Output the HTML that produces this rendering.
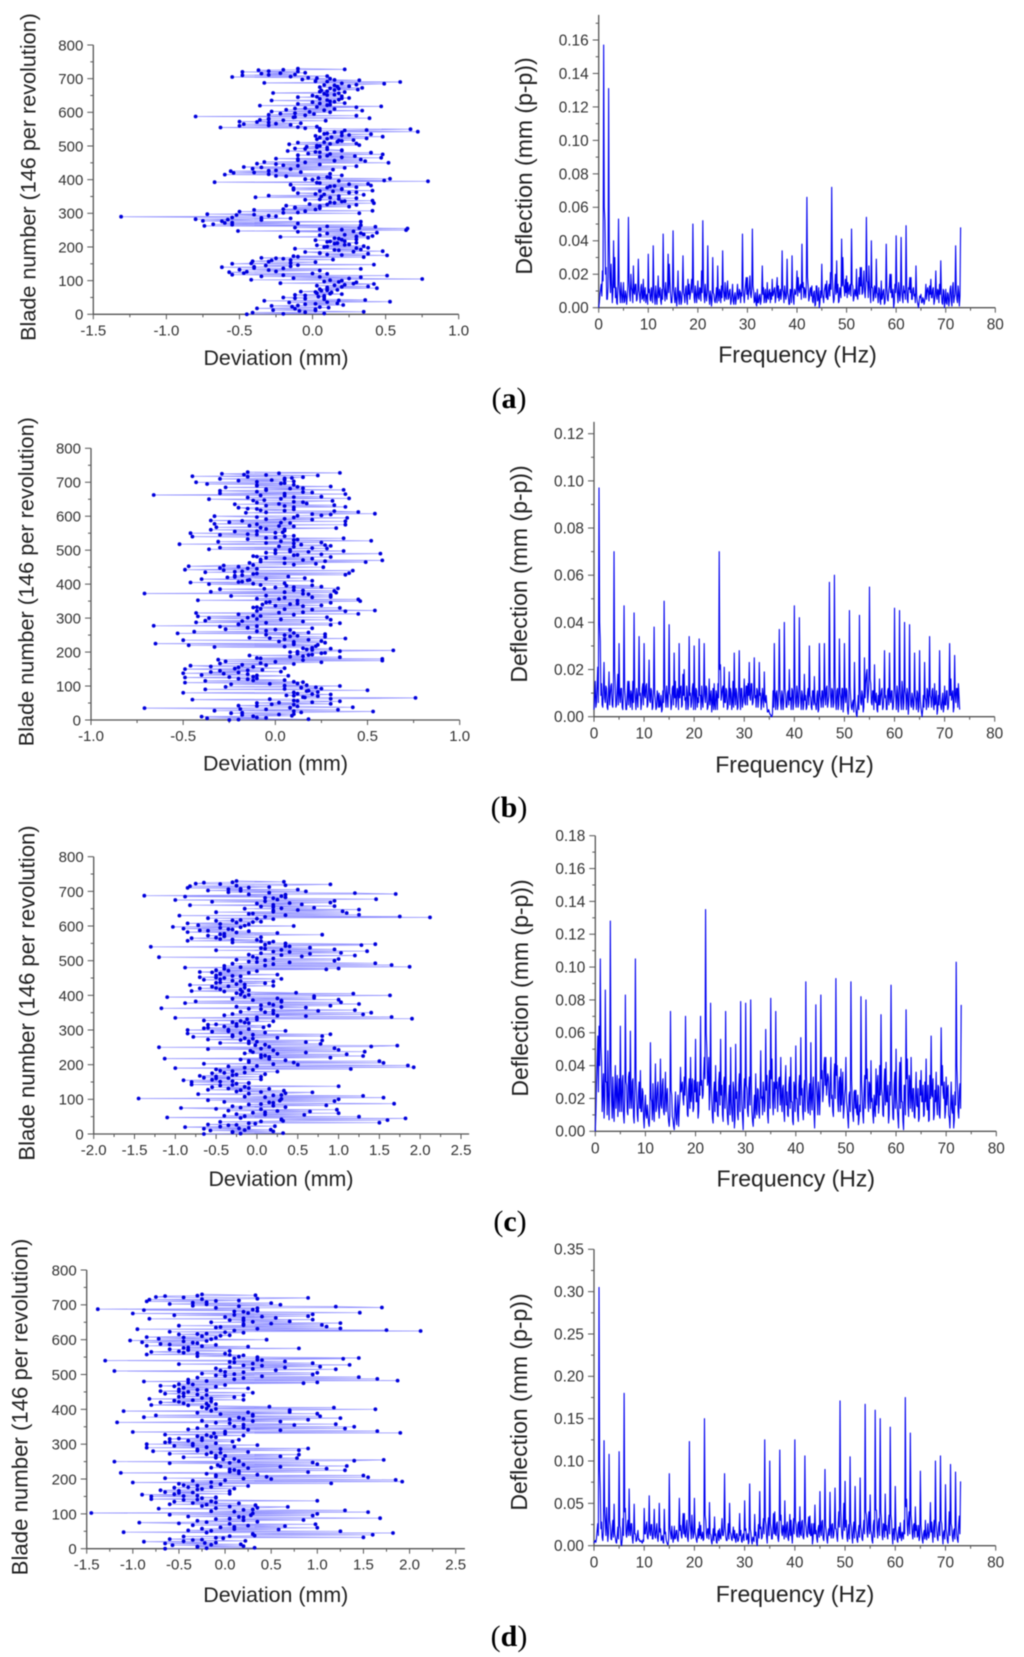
<!DOCTYPE html>
<html lang="en">
<head>
<meta charset="utf-8">
<title>Blade deviation and deflection spectra</title>
<style>
html,body{margin:0;padding:0;background:#fff;width:1024px;height:1657px;overflow:hidden}
svg{display:block;filter:blur(.5px)}
.tick{font-family:"Liberation Sans",sans-serif;fill:#333}
.title{font-family:"Liberation Sans",sans-serif;fill:#222}
.cap{font-family:"Liberation Serif",serif;font-size:30px;fill:#000;text-anchor:middle}
.cap tspan{font-weight:bold}
</style>
</head>
<body>
<svg id="fig" xmlns="http://www.w3.org/2000/svg" width="1024" height="1657" viewBox="0 0 1024 1657">
<rect width="1024" height="1657" fill="#fff"/>
<text class="cap" x="509" y="408">(<tspan>a</tspan>)</text>
<text class="cap" x="509" y="817">(<tspan>b</tspan>)</text>
<text class="cap" x="510" y="1231">(<tspan>c</tspan>)</text>
<text class="cap" x="509" y="1646">(<tspan>d</tspan>)</text>
</svg>
<script>
// Blade step between consecutive scatter values, and frequency step between spectrum values.
const bladeStep = 2.5;
const bladeStepFill = 5;
const freqStep = 0.25;

const bladeTicks = [0,100,200,300,400,500,600,700,800];
const bladeMinor = [50,150,250,350,450,550,650,750];
const freqTicks = [0,10,20,30,40,50,60,70,80];
const freqMinor = [5,15,25,35,45,55,65,75];

const devTicksA = [-1.5,-1.0,-0.5,0.0,0.5,1.0];
const devMinorA = [-1.25,-0.75,-0.25,0.25,0.75];
const devTicksB = [-1.0,-0.5,0.0,0.5,1.0];
const devMinorB = [-0.75,-0.25,0.25,0.75];
const devTicksC = [-2.0,-1.5,-1.0,-0.5,0.0,0.5,1.0,1.5,2.0,2.5];
const devMinorC = [-1.75,-1.25,-0.75,-0.25,0.25,0.75,1.25,1.75,2.25];
const devTicksD = [-1.5,-1.0,-0.5,0.0,0.5,1.0,1.5,2.0,2.5];
const devMinorD = [-1.25,-0.75,-0.25,0.25,0.75,1.25,1.75,2.25];

const deflTicksA = [0,0.02,0.04,0.06,0.08,0.10,0.12,0.14,0.16];
const deflMinorA = [0.01,0.03,0.05,0.07,0.09,0.11,0.13,0.15,0.17];
const deflTicksB = [0,0.02,0.04,0.06,0.08,0.10,0.12];
const deflMinorB = [0.01,0.03,0.05,0.07,0.09,0.11];
const deflTicksC = [0,0.02,0.04,0.06,0.08,0.10,0.12,0.14,0.16,0.18];
const deflMinorC = [0.01,0.03,0.05,0.07,0.09,0.11,0.13,0.15,0.17];
const deflTicksD = [0,0.05,0.10,0.15,0.20,0.25,0.30,0.35];
const deflMinorD = [0.025,0.075,0.125,0.175,0.225,0.275,0.325];

// Deviation (mm) per blade, panel (a)
const deviationA = [
-.45,.08,-.41,.35,-.09,-.27,.02,-.38,.11,-.14,
-.28,.21,-.05,.17,-.16,.53,-.33,.36,.08,-.12,
-.2,.04,.08,-.12,.2,.03,.13,-.08,.06,.17,
.05,.44,.1,.38,.03,.22,.42,-.22,.3,.08,
.2,-.42,.75,-.13,.33,-.35,.51,-.55,.1,-.47,
-.57,-.25,.05,-.5,.33,-.4,-.62,-.15,-.32,.42,
-.55,-.15,.02,-.41,-.28,.14,-.2,-.35,.35,-.13,
.51,.1,.38,.05,-.05,.48,.18,.33,-.12,.38,
.08,.35,.03,.25,.15,.3,.1,.22,.02,.3,
.18,.38,-.22,.41,.05,.35,.1,.44,-.1,-.51,
.64,.05,.65,-.12,.43,-.74,.33,-.68,-.1,-.55,
.33,-.75,-.35,-.8,-.15,-.55,-1.31,-.3,-.52,-.72,
.32,-.1,-.5,.41,-.4,-.2,.05,-.12,.25,-.18,
.3,-.02,.42,.12,.2,.41,-.05,.18,.3,-.39,
.06,-.3,.35,.02,-.1,.3,.14,.41,-.13,.2,
-.13,.3,.12,.4,-.15,.38,.05,-.67,.79,.49,
0,.53,.04,.1,-.18,.2,-.6,.12,-.54,-.08,
-.56,-.25,.14,-.41,.22,-.47,.3,-.2,.05,-.38,
.52,-.33,.36,-.1,.33,-.25,.47,.05,.29,-.1,
.48,-.03,.4,.02,-.17,.2,.1,-.12,.1,-.04,
.05,.32,-.16,.3,-.1,.17,.2,.28,.03,.37,
.05,.48,.02,.25,.4,.1,.2,.72,.05,.37,
.67,-.05,-.63,.03,-.5,-.15,-.47,-.08,-.3,-.5,
.09,-.36,-.3,.39,-.13,-.8,.3,-.3,.01,-.12,
.12,-.28,.34,-.18,.15,-.05,.3,.47,-.36,.12,
-.1,.22,0,.12,-.28,.18,.05,.25,-.1,.2,
0,.15,.08,-.27,.22,.1,.06,.31,.18,.34,
.05,.25,.15,.3,.49,-.33,.6,.02,.32,-.07,
.12,-.03,-.55,.1,-.48,-.12,-.35,-.05,-.48,-.3,
-.37,.22,-.1
];
// Additional blades of panel (a), read from the dense central clusters
const deviationAFill = [
-.2,-.05,.02,-.12,.05,
-.1,.02,.1,.18,-.05,
.08,-.05,.12,.02,.1,
.1,.2,.15,.28,.18,
.12,.25,.05,-.2,0,
-.45,-.3,-.2,-.4,-.1,
-.42,-.3,-.15,-.25,-.1,
.2,.05,.28,.15,.3,
.1,.22,.17,.12,.2,
.15,.3,.22,.33,.28,
.2,.32,.1,-.55,-.6,
-.62,-.58,-.35,-.25,-.4,
-.2,-.05,.02,-.12,.05,
.1,.15,.22,.05,.12,
.18,.08,.25,.05,.2,
.1,.15,.25,.03,.18,
-.05,.12,-.25,-.3,-.4,
-.3,-.15,-.35,-.1,-.25,
-.05,.15,-.1,.2,.1,
.12,.05,.2,-.05,.03,
.03,.12,.08,.18,.1,
.13,.2,.08,.15,.22,
.05,-.1,-.3,-.25,-.38,
-.2,-.3,-.12,-.05,-.22,
-.02,.08,-.12,.03,.1,
.05,.15,.1,.2,.03,
.1,.18,.05,.15,.12,
.17,.08,.2,.1,.15,
.03,-.15,-.3,-.22,-.1,
-.2
];

// Deviation (mm) per blade, panel (b)
const deviationB = [
-.25,.18,-.37,-.1,-.4,.09,-.18,.1,-.24,.14,
.53,-.33,.34,-.19,-.71,.42,.12,-.2,.1,.3,
-.1,.2,.35,.1,-.45,.3,.76,.15,.23,.06,
.3,.12,-.5,.23,.17,.5,-.38,.25,.14,-.27,
.35,.17,-.24,.12,-.49,.1,-.38,.05,-.15,-.1,
-.49,-.12,.07,-.4,-.15,-.5,-.2,.03,-.3,-.07,
-.49,.05,-.2,-.35,-.46,-.18,.1,-.08,.25,-.27,
.58,-.31,.58,-.1,.35,.15,-.14,.2,.12,.27,
.08,.35,.64,.17,.3,.2,-.33,.22,-.47,.1,
-.65,.27,.1,.25,-.5,.05,.38,-.14,.27,.12,
.05,.27,-.53,.18,-.44,-.05,.08,-.27,.2,-.15,
-.3,-.66,.3,-.2,.35,-.43,.15,-.38,.3,-.1,
-.36,.28,-.42,-.12,.1,.45,-.43,.15,.38,.54,
.2,-.08,.35,-.1,.15,.25,-.07,.12,.3,-.03,
.46,-.42,.45,-.1,.05,.3,-.24,.3,.18,-.71,
.33,-.35,.32,.1,-.3,.34,0,.25,.06,-.08,
-.36,.05,-.46,-.18,.2,-.14,-.4,.16,-.26,.07,
-.22,.38,-.12,.4,-.38,-.18,.42,-.49,-.1,-.3,
.26,-.47,-.28,.1,.22,-.14,.49,.27,.58,-.08,
.2,-.05,.3,-.12,.1,.25,.57,-.05,.18,.37,
0,-.36,.28,-.3,.1,.3,.27,-.52,.1,.25,
-.31,.52,.1,-.15,.37,0,-.45,.1,-.3,-.15,
-.46,.04,-.22,.05,-.35,-.05,.33,-.32,.1,-.14,
.38,-.33,.08,-.25,.38,-.35,.2,.05,.39,-.1,
-.33,.25,.3,.54,-.16,.45,.32,-.08,.1,-.15,
-.2,.38,.05,.32,-.22,.17,-.1,.1,.31,-.06,
-.36,.4,-.15,.25,.05,-.66,.38,-.3,.2,-.1,
-.3,.37,-.05,.15,-.27,.3,-.1,.1,-.37,.05,
-.43,.1,-.2,.05,-.3,.09,.15,-.45,.23,-.17,
-.29,.35,-.15
];
// Additional blades of panel (b)
const deviationBFill = [
-.2,-.05,-.12,.02,-.18,
.1,-.05,.08,-.1,-.02,
.02,.12,-.03,.16,.1,
.2,.1,.18,.05,.22,
.05,-.03,.15,-.12,-.2,
-.25,-.1,-.28,-.35,-.15,
-.22,-.12,-.05,-.3,0,
.15,-.08,.08,.18,.25,
.12,.2,.15,.05,.23,
.1,.02,.18,-.03,.08,
-.05,.1,-.1,0,-.15,
-.1,-.2,-.05,-.18,.03,
-.15,-.08,-.2,.02,-.1,
.05,-.12,0,.08,-.05,
.12,.02,.2,-.05,.15,
.05,.15,-.06,.1,.2,
-.12,-.2,-.15,-.05,-.22,
-.18,-.1,-.22,-.28,-.15,
-.2,-.12,.05,-.08,.15,
.05,-.1,.12,0,.08,
.08,.2,.02,.14,-.05,
.03,.12,-.05,.05,-.1,
0,-.1,.05,-.08,.02,
-.1,.03,-.18,-.05,.1,
.12,.2,-.05,.05,-.1,
.1,-.05,.02,.15,-.12,
.03,.1,-.08,.05,.15,
-.05,.08,.12,-.1,.03,
-.1,-.02,.05,-.15,-.05,
.02
];

// Deviation (mm) per blade, panel (c)
const deviationC = [
-.65,.32,-.3,.2,-.57,.17,-.65,-.1,-.88,.22,
-.35,-.6,-.02,1.5,-.45,.32,1.6,.3,1.82,-1.1,
1.25,-.4,.58,-.25,1,.1,.65,-.35,.98,-.5,
-.93,.35,-.3,.85,-.1,1.68,.2,-.4,.95,-.6,
1,-1.45,1.55,-.15,1.3,.3,-.72,.35,.68,-.25,
.33,-.6,.15,-.1,-.55,1,-.45,-.8,-.25,-.1,
-.8,-.3,-.9,.05,-.5,-.65,.05,-.7,-.3,.1,
-.55,-.15,.25,-.45,-.05,1.15,-1,1.92,-.35,1.85,
.5,-.65,1.55,-.1,1.5,.35,-.2,-1.13,.9,.15,
1.3,.05,1.1,-.15,.6,1.32,-.08,1,-.6,.95,
-1.2,1.4,1.72,.1,.78,-.45,.6,-.1,.8,-.6,
-.05,.25,-.78,.8,-.3,.9,-.85,.1,-.55,.35,
-.85,-.1,-.65,.08,-.4,.15,-.6,-.25,-.1,-.3,
.2,-.65,0,1.9,-1,1.65,.6,-.4,1.3,.2,
1.4,-.2,.75,1.2,.05,-1.17,.6,-.25,.9,.2,
1.25,-.88,1.03,-.75,.3,1,-.3,.7,-1.1,.7,
1.63,-.2,1.18,.48,-.18,-.8,-.1,-.45,-.7,-.15,
-.55,.2,-.82,-.25,.1,-.45,.2,-.3,-.65,.3,
-.4,-.7,-.2,-.5,.25,-.45,-.1,-.7,0,-.5,
.85,1,-.88,1.87,-.4,1.65,.2,1.45,.4,-.1,
.95,-.25,1,0,-1.2,.55,1.2,-.1,.65,1.03,
.4,1.35,-.5,.95,.1,.65,-1.3,.35,1.28,1.45,
.35,-.3,.2,-.85,0,-.45,-.8,.05,-.4,-.6,
.8,-.4,.25,-.85,-.1,-.7,-.3,-.9,-.45,-1.03,
.45,-.72,-.1,-.85,-.25,.05,-.5,-.2,.2,-.6,
2.12,1.75,-.95,1.25,-.1,1.1,-.5,1.05,.2,1.25,
-.15,.7,.2,.95,-.82,.55,0,.9,-.55,.95,
-1,1.46,.2,.35,-.88,-1.38,.35,1.7,1.2,-.35,
.6,-.6,.5,-.2,-.85,.15,-.82,.35,.9,-.75,
-.65,.33,-.25
];
// Additional blades of panel (c)
const deviationCFill = [
-.2,-.3,-.15,-.22,-.45,
-.25,-.1,.05,.3,-.2,
-.15,.1,-.05,.25,.05,
-.2,.2,.05,.15,.28,
.3,.1,.2,-.1,.05,
-.2,-.35,-.15,-.3,-.1,
-.45,-.55,-.35,-.5,-.25,
-.4,-.3,-.5,-.15,0,
.2,.45,-.1,.15,.05,
.1,.25,-.05,.2,.05,
.15,-.02,-.1,0,-.2,
-.15,-.3,-.05,-.2,-.35,
-.35,-.6,-.25,-.5,-.15,
-.2,-.12,0,.25,-.3,
.1,.2,-.1,.3,.05,
.15,.3,-.05,.25,-.15,
-.1,-.25,-.4,-.2,-.5,
-.35,-.15,-.5,-.2,-.45,
-.5,-.3,-.45,-.55,-.35,
-.4,-.2,.1,-.3,0,
.1,.2,-.05,.3,.05,
.2,.3,.05,.4,.1,
.15,.05,-.3,-.5,-.4,
-.45,-.25,-.6,-.35,-.2,
-.15,-.45,-.05,-.3,0,
.1,.35,-.05,.2,.5,
.3,.05,.2,.4,.1,
.25,.1,.3,-.1,.15,
-.2,-.35,-.1,-.25,-.45,
-.3
];

// Panel (d) plots the same blade record as panel (c).
const deviationD = deviationC.slice();
const deviationDFill = deviationCFill.slice();

// Deflection (0.001 mm p-p), four readings per Hz, panel (a)
const spectrumA = [
0,8,14,22, 157,52,24,5, 131,18,26,3, 40,30,12,2, 53,8,15,3, 15,4,8,6, 54,7,20,10, 25,8,14,5, 29,7,12,5, 17,9,3,8,
32,11,4,8, 37,6,13,2, 19,8,4,11, 44,9,15,5, 32,26,8,3, 46,7,12,1, 22,2,9,4, 31,7,11,5, 17,14,8,17, 50,6,13,3,
16,5,11,22, 52,7,14,4, 37,6,10,1, 30,8,3,12, 25,4,9,13, 34,8,15,5, 16,6,11,4, 14,2,9,5, 14,6,10,9, 44,7,10,18,
18,9,19,6, 47,10,4,2, 11,3,8,4, 25,12,7,3, 15,5,11,9, 17,8,12,6, 18,13,8,5, 34,9,13,5, 29,7,2,10, 31,5,11,8,
22,18,9,14, 38,15,12,6, 66,13,6,12, 13,3,10,2, 13,5,0,10, 26,6,10,14, 16,5,14,21, 72,9,5,20, 28,14,4,9, 41,30,12,17,
19,15,8,14, 47,13,6,9, 23,5,18,24, 24,9,22,6, 54,15,25,8, 40,12,6,10, 29,8,12,4, 16,6,11,3, 38,5,10,20, 20,7,0,14,
43,8,15,4, 42,6,13,10, 49,5,12,18, 18,5,12,8, 25,4,0,7, 8,3,5,4, 14,10,9,13, 17,6,12,4, 22,5,10,14, 28,3,11,0,
11,2,8,4, 13,1,15,6, 37,5,13,1, 48
];
// Readings midway between the samples above, panel (a)
const spectrumAFill = [
3,11,7,16, 60,20,5,12, 40,9,14,10, 12,6,3,14, 14,3,9,7, 3,10,2,13, 16,4,12,3, 9,14,4,11, 10,3,14,6, 4,12,7,2,
9,5,12,3, 12,2,7,9, 6,12,2,5, 13,4,8,11, 9,15,3,10, 12,3,5,8, 6,10,2,11, 9,3,13,2, 8,5,12,9, 15,3,9,8,
6,12,4,9, 17,3,8,9, 11,2,7,5, 9,4,7,3, 8,11,3,6, 11,4,7,12, 5,10,2,8, 4,7,2,9, 5,11,3,7, 12,3,14,8,
5,12,8,11, 13,3,9,1, 3,7,2,9, 8,3,11,4, 6,10,3,5, 7,11,3,12, 6,4,11,8, 11,3,9,7, 9,2,11,3, 10,2,8,12,
7,11,13,5, 12,6,10,13, 18,4,11,7, 4,9,1,13, 4,12,3,6, 8,3,12,6, 5,12,7,11, 20,3,13,8, 9,3,12,6, 13,14,7,9,
6,11,13,7, 14,4,11,7, 7,11,8,13, 8,15,10,14, 16,6,13,3, 12,4,13,6, 9,3,11,2, 5,10,2,9, 12,4,13,9, 6,11,3,9,
13,3,10,8, 12,3,9,5, 14,3,11,9, 5,11,7,3, 8,2,3,6, 3,6,2,7, 5,12,4,8, 6,11,2,9, 7,11,3,8, 9,2,10,4,
3,9,1,11, 4,12,3,8, 11,3,9,7
];

// Deflection (0.001 mm p-p), four readings per Hz, panel (b)
const spectrumB = [
3,15,6,21, 97,32,14,4, 23,6,12,3, 19,9,14,4, 70,12,5,18, 31,6,12,3, 47,8,3,15, 15,4,9,15, 44,7,12,4, 34,10,6,14,
31,8,14,5, 24,6,11,4, 38,7,4,9, 10,5,2,11, 49,8,13,4, 39,9,5,13, 27,15,7,10, 31,12,4,18, 20,8,13,3, 34,10,6,14,
30,3,11,8, 33,9,13,4, 31,6,12,4, 16,8,2,12, 14,3,9,14, 70,22,9,13, 21,6,11,4, 19,12,3,15, 27,5,10,4, 28,3,12,6,
16,5,13,14, 23,7,14,6, 25,9,12,4, 23,10,6,8, 19,6,5,2, 2,1,0,11, 31,3,11,5, 37,6,11,3, 40,9,4,11, 20,8,12,3,
47,6,13,4, 42,7,11,3, 18,9,4,12, 30,8,3,11, 17,5,9,2, 31,7,11,4, 31,5,13,6, 57,8,12,4, 60,6,11,3, 33,8,12,2,
31,6,11,1, 45,8,3,7, 23,4,0,9, 43,6,11,2, 25,14,20,9, 55,14,5,11, 22,6,3,9, 16,8,12,4, 28,9,3,12, 27,6,11,4,
46,8,13,2, 45,6,15,3, 40,9,12,1, 39,5,10,3, 27,7,11,2, 28,4,0,9, 23,7,12,4, 34,8,11,5, 14,6,1,9, 28,4,7,2,
13,5,11,4, 31,16,9,2, 26,6,12,14, 3
];
// Readings midway between the samples above, panel (b)
const spectrumBFill = [
9,4,13,6, 40,9,5,12, 8,13,4,9, 5,13,5,10, 20,4,11,5, 9,12,4,10, 12,3,9,5, 9,11,3,6, 12,3,9,11, 9,3,12,5,
9,13,4,11, 7,12,3,10, 10,3,11,4, 4,9,3,6, 13,4,9,11, 10,3,12,5, 8,4,12,3, 8,13,5,9, 7,3,10,5, 9,4,12,3,
9,12,4,6, 9,3,7,10, 9,13,3,7, 5,11,6,3, 5,11,3,8, 20,7,12,4, 6,12,3,9, 5,10,6,4, 9,12,3,11, 8,12,4,9,
6,13,5,9, 8,14,5,10, 8,4,11,7, 9,3,12,4, 7,9,2,3, 1,0,1,4, 9,10,3,12, 11,3,9,6, 12,4,10,5, 7,3,11,6,
13,4,10,6, 12,3,9,5, 7,3,10,5, 9,4,11,5, 6,3,11,3, 9,4,11,8, 9,12,4,9, 16,4,11,6, 17,3,12,5, 10,3,12,6,
9,12,3,5, 13,4,6,2, 7,1,4,3, 12,5,9,4, 8,18,6,14, 16,6,11,3, 7,10,2,5, 5,11,3,9, 8,3,11,5, 8,11,3,9,
12,3,10,5, 12,3,11,6, 11,3,10,5, 11,4,8,5, 9,3,10,4, 8,2,3,4, 8,3,11,6, 9,4,12,3, 5,11,3,5, 8,3,10,4,
5,11,3,9, 9,7,11,4, 9,12,4,9
];

// Deflection (0.001 mm p-p), four readings per Hz, panel (c)
const spectrumC = [
0,30,58,64, 105,42,25,8, 86,30,49,7, 128,18,33,6, 40,24,9,32, 64,12,34,5, 83,28,10,36, 61,14,32,5, 105,20,6,30, 37,12,24,2,
22,8,11,3, 54,18,29,6, 41,15,30,8, 44,14,32,10, 36,21,12,3, 73,22,7,1, 24,4,22,14, 39,27,20,33, 70,22,9,32, 45,26,12,31,
56,18,8,30, 70,31,22,45, 135,50,31,13, 78,18,5,30, 40,24,9,36, 56,28,6,33, 73,16,4,28, 51,11,30,2, 53,24,7,35, 79,16,1,32,
78,26,9,33, 80,12,3,22, 35,10,25,8, 49,21,30,12, 62,34,5,37, 81,44,10,28, 73,30,24,33, 45,12,28,6, 40,24,9,33, 45,18,4,26,
52,20,6,34, 57,26,7,31, 91,24,11,29, 54,13,33,2, 77,21,30,10, 83,37,24,45, 45,29,33,15, 45,22,9,41, 93,40,12,33, 38,27,8,22,
45,14,2,24, 91,20,6,25, 25,10,4,16, 82,21,5,34, 80,38,12,28, 43,20,5,14, 38,28,11,40, 71,22,9,38, 42,18,5,30, 89,20,7,36,
50,14,2,42, 45,18,1,28, 74,44,9,30, 45,12,26,8, 36,15,6,31, 37,18,9,30, 44,13,6,34, 58,21,7,25, 36,10,27,8, 63,40,20,8,
33,26,10,2, 30,11,2,24, 103,28,8,29, 77
];
// Readings midway between the samples above, panel (c)
const spectrumCFill = [
12,44,24,40, 52,12,35,18, 30,10,22,28, 40,8,16,24, 14,34,20,12, 22,30,10,20, 30,12,33,14, 20,30,9,26, 32,10,24,14, 12,26,8,14,
10,16,5,11, 20,7,14,22, 12,26,14,18, 16,28,12,22, 12,26,6,10, 25,9,3,14, 8,14,3,20, 24,30,16,22, 30,10,26,14, 18,32,14,24,
18,30,12,22, 28,20,35,32, 60,28,45,24, 28,8,24,12, 18,10,30,16, 22,10,30,14, 24,8,22,10, 18,6,26,8, 20,10,28,12, 30,8,24,14,
28,12,26,16, 30,6,14,8, 14,26,12,22, 20,10,24,18, 25,10,28,14, 32,18,30,14, 26,12,32,16, 20,26,12,28, 16,10,28,14, 18,6,30,12,
20,10,28,16, 22,12,26,12, 34,14,24,10, 20,26,12,20, 28,10,24,22, 32,18,40,28, 22,35,18,30, 20,12,34,20, 34,18,30,12, 16,36,14,26,
18,8,22,12, 32,10,24,14, 12,22,8,12, 30,10,25,14, 32,18,30,14, 18,10,22,9, 16,34,16,22, 26,10,30,16, 18,28,10,22, 32,8,28,14,
20,8,30,14, 18,6,28,10, 32,16,34,14, 20,26,9,22, 16,26,8,22, 18,28,10,18, 16,28,7,20, 22,32,10,18, 16,28,10,22, 28,24,30,12,
16,28,8,16, 14,22,7,16, 40,12,24,14
];

// Deflection (0.001 mm p-p), four readings per Hz, panel (d)
const spectrumD = [
3,6,9,26, 305,65,28,6, 124,26,45,5, 108,24,7,30, 49,10,3,22, 111,20,0,32, 180,44,10,30, 67,12,26,3, 49,14,6,18, 8,5,4,7,
44,14,28,8, 59,12,25,8, 43,9,26,5, 50,20,8,4, 43,16,4,1, 85,14,23,4, 23,9,18,5, 56,24,9,38, 38,10,30,5, 123,18,36,9,
56,12,4,20, 28,24,10,6, 150,30,9,20, 51,13,2,20, 34,14,3,18, 20,8,32,12, 85,10,6,26, 50,14,6,22, 18,4,14,6, 38,18,4,14,
53,20,9,2, 73,15,2,8, 37,16,0,25, 64,22,10,32, 125,25,3,33, 100,20,8,38, 40,12,28,5, 113,36,12,20, 53,10,28,6, 37,30,3,32,
125,25,10,28, 46,12,30,8, 106,22,10,34, 35,12,2,26, 48,18,4,24, 64,12,30,6, 90,18,3,20, 63,9,26,12, 68,20,5,40, 171,24,8,50,
76,30,5,25, 105,22,3,28, 70,15,4,24, 80,18,6,30, 167,36,10,40, 60,15,3,30, 160,42,9,32, 150,30,7,25, 61,24,8,36, 140,30,2,20,
70,14,4,22, 27,6,13,30, 175,55,12,40, 133,28,8,26, 46,24,12,6, 88,15,3,18, 30,7,26,12, 51,28,4,30, 100,18,6,28, 106,26,2,18,
72,14,3,40, 96,22,5,20, 87,12,4,35, 76
];
// Readings midway between the samples above, panel (d)
const spectrumDFill = [
5,4,18,12, 90,20,10,18, 40,12,22,14, 30,8,20,10, 14,4,12,8, 24,2,8,12, 40,14,24,12, 18,26,9,14, 14,5,12,7, 5,6,3,5,
14,24,10,18, 16,25,8,20, 12,18,10,14, 16,6,12,3, 14,7,2,8, 20,8,12,9, 8,18,7,16, 18,12,24,14, 12,22,9,20, 30,8,20,14,
16,7,12,9, 12,8,16,8, 36,14,20,8, 14,5,10,6, 12,4,14,6, 10,18,12,20, 22,6,14,8, 16,8,14,9, 8,14,5,10, 12,5,12,6,
18,7,14,5, 20,6,10,5, 12,4,12,9, 20,8,22,14, 30,10,24,12, 26,8,22,14, 14,26,9,16, 30,16,24,8, 16,24,9,18, 12,12,20,14,
30,12,25,10, 14,28,10,16, 28,12,24,14, 12,26,8,14, 14,8,20,10, 18,28,9,16, 24,8,14,12, 18,25,9,22, 20,10,26,22, 45,12,26,18,
22,10,18,8, 28,10,20,9, 20,7,16,10, 22,8,20,14, 40,16,30,14, 18,6,24,10, 42,18,28,12, 40,12,26,10, 18,12,26,14, 36,12,20,7,
20,6,16,9, 12,16,8,14, 46,25,30,14, 36,14,24,10, 18,10,24,10, 24,7,14,8, 12,16,9,20, 16,14,22,10, 28,9,22,12, 30,12,16,8,
20,6,18,12, 26,10,18,8, 24,7,25,14
];

const svg = document.getElementById('fig');
const NS = 'http://www.w3.org/2000/svg';

function make(tag, attrs, parent){
  const el = document.createElementNS(NS, tag);
  for (const k in attrs) el.setAttribute(k, attrs[k]);
  parent.appendChild(el);
  return el;
}
function linScale(d0, d1, p0, p1){
  return function(v){ return p0 + (v - d0) * (p1 - p0) / (d1 - d0); };
}
// Orders the two reading sets of a series by blade number.
function mergeBlades(main, fill){
  const rows = [];
  main.forEach(function(v, i){ rows.push([i * bladeStep, v]); });
  fill.forEach(function(v, i){ rows.push([(i + 0.25) * bladeStepFill, v]); });
  rows.sort(function(a, b){ return a[0] - b[0]; });
  return rows;
}
// Orders the two reading sets of a spectrum by frequency.
function mergeFreqs(main, fill){
  const rows = [];
  main.forEach(function(v, i){
    rows.push([i * freqStep, v]);
    if (i < fill.length) rows.push([(i + 0.5) * freqStep, fill[i]]);
  });
  return rows;
}

function drawAxes(g, o){
  const axisColor = '#555';
  const xAxis = make('line', {x1:o.x(o.xStart), y1:o.y(0), x2:o.x(o.xEnd), y2:o.y(0), stroke:axisColor, 'stroke-width':1.3}, g);
  
  
  const yAxis = make('line', {x1:o.x(o.xStart), y1:o.y(0), x2:o.x(o.xStart), y2:o.y(o.yEnd), stroke:axisColor, 'stroke-width':1.3}, g);
  
  

  o.xTicks.forEach(function(v){
    const t = make('line', {x1:o.x(v), y1:o.y(0), x2:o.x(v), y2:o.y(0)+5, stroke:axisColor, 'stroke-width':1}, g);
    
    
    const l = make('text', {class:'tick', x:o.x(v), y:o.y(0)+o.xLabelDy, 'font-size':o.tickSize, 'text-anchor':'middle'}, g);
    l.textContent = v.toFixed(o.xDec);
    
    
  });
  o.xMinor.forEach(function(v){
    const t = make('line', {x1:o.x(v), y1:o.y(0), x2:o.x(v), y2:o.y(0)+3, stroke:axisColor, 'stroke-width':1}, g);
    
    
  });
  o.yTicks.forEach(function(v){
    const t = make('line', {x1:o.x(o.xStart), y1:o.y(v), x2:o.x(o.xStart)-6, y2:o.y(v), stroke:axisColor, 'stroke-width':1}, g);
    
    
    const l = make('text', {class:'tick', x:o.x(o.xStart)-10, y:o.y(v)+5.4, 'font-size':o.tickSize, 'text-anchor':'end'}, g);
    l.textContent = v.toFixed(o.yDec);
    
    
  });
  o.yMinor.forEach(function(v){
    const t = make('line', {x1:o.x(o.xStart), y1:o.y(v), x2:o.x(o.xStart)-3, y2:o.y(v), stroke:axisColor, 'stroke-width':1}, g);
    
    
  });

  const xt = make('text', {class:'title', x:o.xTitleX, y:o.xTitleY, 'font-size':o.titleSize, 'text-anchor':'middle'}, g);
  xt.textContent = o.xTitle;
  
  
  const yt = make('text', {class:'title', transform:'translate('+o.yTitleX+','+o.yTitleY+') rotate(-90)', 'font-size':o.yTitleSize || o.titleSize, 'text-anchor':'middle'}, g);
  yt.textContent = o.yTitle;
  
  
}

function drawScatter(name, values, fill, o){
  const g = make('g', {}, svg);
  
  
  o.yStart = 0; o.yEnd = 800;
  o.yTicks = bladeTicks; o.yMinor = bladeMinor;
  o.xDec = 1; o.yDec = 0;
  o.tickSize = 15; o.titleSize = 21.4; o.xLabelDy = 21;
  o.xTitle = 'Deviation (mm)';
  o.yTitle = 'Blade number (146 per revolution)';
  drawAxes(g, o);
  const rows = mergeBlades(values, fill);
  const pts = rows.map(function(r){ return o.x(r[1]).toFixed(1) + ',' + o.y(r[0]).toFixed(1); });
  const line = make('polyline', {points:pts.join(' '), fill:'none', stroke:'#8c8cff', 'stroke-width':0.7}, g);
  
  
  rows.forEach(function(r){
    const c = make('circle', {cx:o.x(r[1]).toFixed(1), cy:o.y(r[0]).toFixed(1), r:1.9, fill:'#0000dc'}, g);
    
    
  });
}

function drawSpectrum(name, values, fill, o){
  const g = make('g', {}, svg);
  
  
  o.xStart = 0; o.xEnd = 80;
  o.xTicks = freqTicks; o.xMinor = freqMinor;
  o.xDec = 0; o.yDec = 2;
  o.tickSize = 15.4; o.titleSize = 23; o.xLabelDy = 22;
  o.xTitle = 'Frequency (Hz)';
  o.yTitle = 'Deflection (mm (p-p))';
  drawAxes(g, o);
  const pts = mergeFreqs(values, fill).map(function(r){ return o.x(r[0]).toFixed(2) + ',' + o.y(r[1] / 1000).toFixed(2); });
  const line = make('polyline', {points:pts.join(' '), fill:'none', stroke:'#0000f0', 'stroke-width':1.1, 'stroke-linejoin':'round'}, g);
  
  
}

drawScatter('deviation-chart-a', deviationA, deviationAFill, {
  x:linScale(-1.5,1,93.3,458.7), y:linScale(0,800,314.3,45),
  xStart:-1.5, xEnd:1, xTicks:devTicksA, xMinor:devMinorA, yTitleSize:21.6,
  xTitleX:276, xTitleY:365, yTitleX:35.7, yTitleY:177
});
drawSpectrum('spectrum-chart-a', spectrumA, spectrumAFill, {
  x:linScale(0,80,598.7,995.3), y:linScale(0,0.16,307.7,40),
  yEnd:0.175, yTicks:deflTicksA, yMinor:deflMinorA,
  xTitleX:797.5, xTitleY:362.7, yTitleX:532, yTitleY:166
});
drawScatter('deviation-chart-b', deviationB, deviationBFill, {
  x:linScale(-1,1,91,459.7), y:linScale(0,800,720,448.3),
  xStart:-1, xEnd:1, xTicks:devTicksB, xMinor:devMinorB, yTitleSize:21.7,
  xTitleX:275.5, xTitleY:770.7, yTitleX:33.3, yTitleY:581.7
});
drawSpectrum('spectrum-chart-b', spectrumB, spectrumBFill, {
  x:linScale(0,80,594,994.7), y:linScale(0,0.12,716.7,433.7),
  yEnd:0.125, yTicks:deflTicksB, yMinor:deflMinorB,
  xTitleX:794.5, xTitleY:772.7, yTitleX:527, yTitleY:574
});
drawScatter('deviation-chart-c', deviationC, deviationCFill, {
  x:linScale(-2,2.5,93.7,461), y:linScale(0,800,1134,856.7),
  xStart:-2, xEnd:2.6, xTicks:devTicksC, xMinor:devMinorC, yTitleSize:22.1,
  xTitleX:281, xTitleY:1186, yTitleX:34.3, yTitleY:993
});
drawSpectrum('spectrum-chart-c', spectrumC, spectrumCFill, {
  x:linScale(0,80,595.3,996.3), y:linScale(0,0.18,1131.3,835.7),
  yEnd:0.18, yTicks:deflTicksC, yMinor:deflMinorC,
  xTitleX:795.8, xTitleY:1186.7, yTitleX:528, yTitleY:988
});
drawScatter('deviation-chart-d', deviationD, deviationDFill, {
  x:linScale(-1.5,2.5,86.7,455.7), y:linScale(0,800,1548.7,1270),
  xStart:-1.5, xEnd:2.6, xTicks:devTicksD, xMinor:devMinorD, yTitleSize:22.2,
  xTitleX:275.8, xTitleY:1602, yTitleX:27.3, yTitleY:1407
});
drawSpectrum('spectrum-chart-d', spectrumD, spectrumDFill, {
  x:linScale(0,80,594,995.7), y:linScale(0,0.35,1545.7,1249.3),
  yEnd:0.35, yTicks:deflTicksD, yMinor:deflMinorD,
  xTitleX:795, xTitleY:1602, yTitleX:527, yTitleY:1402
});
</script>
</body>
</html>
